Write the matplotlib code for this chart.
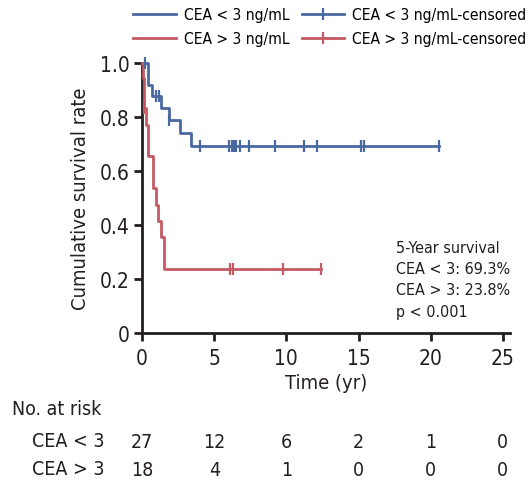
import matplotlib
matplotlib.use("Agg")
import matplotlib.pyplot as plt
from matplotlib.lines import Line2D

plt.rcParams['font.family'] = ['DejaVu Sans']
plt.rcParams['font.stretch'] = 'condensed'

# Kaplan-Meier step data
blue_t = [0, 0.42, 0.7, 1.3, 1.9, 2.6, 3.4, 20.6]
blue_s = [1.0, 0.918, 0.877, 0.833, 0.789, 0.741, 0.693, 0.693]
blue_cens_t = [0.2, 1.0, 1.2, 1.9, 4.0, 6.05, 6.2, 6.4, 6.5, 6.8, 7.4, 9.2, 11.2, 12.1, 15.2, 15.4, 20.6]
blue_cens_s = [1.0, 0.877, 0.877, 0.789] + [0.693] * 13

red_t = [0, 0.08, 0.12, 0.15, 0.3, 0.38, 0.42, 0.78, 0.95, 1.13, 1.32, 1.55, 12.4]
red_s = [1.0, 0.944, 0.889, 0.833, 0.77, 0.71, 0.655, 0.537, 0.475, 0.416, 0.355, 0.238, 0.238]
red_cens_t = [0.15, 6.1, 6.3, 9.8, 12.4]
red_cens_s = [0.833, 0.238, 0.238, 0.238, 0.238]

risk_times = [0, 5, 10, 15, 20, 25]
risk_low = [27, 12, 6, 2, 1, 0]
risk_high = [18, 4, 1, 0, 0, 0]

annot = ["5-Year survival", "CEA < 3: 69.3%", "CEA > 3: 23.8%", "p < 0.001"]

blue = '#4A68A0'
red = '#C45A64'
dark = '#231F20'

fig = plt.figure(figsize=(5.28, 4.85), dpi=100)
ax = fig.add_axes([0.269, 0.311, 0.697, 0.557])

ax.step(blue_t, blue_s, where='post', color=blue, lw=2, clip_on=False, zorder=3)
ax.step(red_t, red_s, where='post', color=red, lw=2, clip_on=False, zorder=3)
ax.plot(blue_cens_t, blue_cens_s, ls='none', marker='|', ms=8, mew=1.6, color=blue, clip_on=False, zorder=4)
ax.plot(red_cens_t, red_cens_s, ls='none', marker='|', ms=8, mew=1.6, color=red, clip_on=False, zorder=4)

ax.set_xlim(0, 25.5)
ax.set_ylim(0, 1.0)
ax.set_xticks(risk_times)
ax.set_yticks([0, 0.2, 0.4, 0.6, 0.8, 1.0])
ax.set_yticklabels(['0', '0.2', '0.4', '0.6', '0.8', '1.0'])
for s in ['top', 'right']:
    ax.spines[s].set_visible(False)
for s in ['left', 'bottom']:
    ax.spines[s].set_linewidth(2)
    ax.spines[s].set_color(dark)
ax.tick_params(direction='out', length=6, width=2, color=dark, labelsize=15, labelcolor=dark)
ax.tick_params(axis='x', pad=5)
ax.tick_params(axis='y', pad=3)
ax.set_xlabel("Time (yr)", fontsize=14.5, color=dark, labelpad=3)
ax.set_ylabel("Cumulative survival rate", fontsize=14.5, color=dark, labelpad=7)

for i, line in enumerate(annot):
    ax.text(0.691, 0.318 - i * 0.079, line, transform=ax.transAxes, fontsize=11.5,
            color=dark, va='center', ha='left')

# number at risk table
tr = ax.get_xaxis_transform()
fig.text(0.023, 1 - 410 / 485, "No. at risk", fontsize=14, color=dark, va='center', ha='left')
fig.text(0.197, 1 - 442 / 485, "CEA < 3", fontsize=14, color=dark, va='center', ha='right')
fig.text(0.197, 1 - 470 / 485, "CEA > 3", fontsize=14, color=dark, va='center', ha='right')
for t, a, b in zip(risk_times, risk_low, risk_high):
    ax.text(t, -0.40, str(a), transform=tr, fontsize=14, color=dark, ha='center', va='center')
    ax.text(t, -0.503, str(b), transform=tr, fontsize=14, color=dark, ha='center', va='center')

handles = [
    Line2D([], [], color=blue, lw=2),
    Line2D([], [], color=red, lw=2),
    Line2D([], [], color=blue, lw=2, marker='|', ms=8, mew=1.6),
    Line2D([], [], color=red, lw=2, marker='|', ms=8, mew=1.6),
]
labels = ["CEA < 3 ng/mL", "CEA > 3 ng/mL", "CEA < 3 ng/mL-censored", "CEA > 3 ng/mL-censored"]
fig.legend(handles, labels, loc='upper left', bbox_to_anchor=(133 / 528, 1 - 8 / 485), ncol=2, frameon=False,
           fontsize=11.2, numpoints=1, handlelength=2.75, handletextpad=0.5, columnspacing=0.8,
           labelspacing=0.6, borderpad=0, borderaxespad=0)

fig.savefig("out.png", dpi=100)
